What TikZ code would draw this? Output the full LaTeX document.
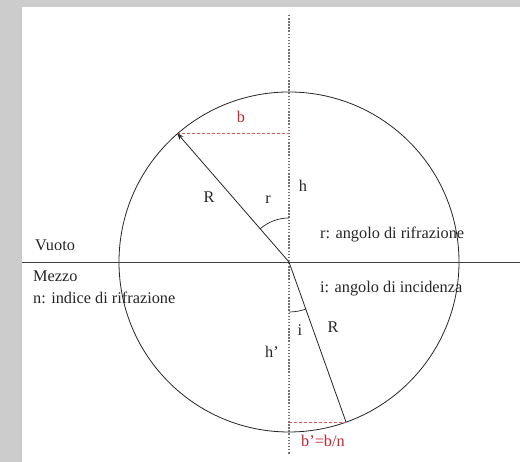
\documentclass[tikz,border=0pt]{standalone}
\usepackage{fontspec}
\setmainfont{Liberation Serif}
\usepackage{tikz}
\usetikzlibrary{arrows.meta}
\definecolor{cornice}{RGB}{204,204,204}
\definecolor{rosso}{RGB}{196,40,52}
\definecolor{tratteggio}{RGB}{222,90,90}

\begin{document}
\begin{tikzpicture}[x=1pt,y=1pt,
		testo/.style={font=\fontsize{16.3}{18}\selectfont, inner sep=0pt, text=black!85},
		testorosso/.style={testo, text=rosso},
		asse/.style={black!55, dash pattern=on 1.5pt off 1.6pt, line width=1.2pt},
		proiezione/.style={tratteggio, dash pattern=on 3pt off 2pt, line width=0.9pt},
		raggio/.style={black!85, line width=0.8pt},
		angolo/.style={black!85, line width=0.7pt}]
		\fill[cornice] (0,0) rectangle (520,462);
		\fill[white] (22,0) rectangle (520,455);
		\useasboundingbox (0,0) rectangle (520,462);
		
		\coordinate (O) at (289,200);
		\coordinate (sx) at (22,200);
		\coordinate (dx) at (520,200);
		\coordinate (su) at (289,447);
		\coordinate (giu) at (289,7);
		\coordinate (P) at (177,329);
		\coordinate (Pv) at (289,329);
		\coordinate (Q) at (346,40);
		\coordinate (Qv) at (289,40);
		
		\draw[raggio] (O) circle[radius=170];
		\draw[black!75, line width=0.8pt] (sx)--(dx);
		\draw[asse] (su)--(giu);
		\draw[proiezione] (P)--(Pv);
		\draw[proiezione] (Qv)--(Q);
		\draw[raggio, -{Stealth[length=7pt,width=5pt]}] (O)--(P);
		\draw[raggio] (O)--(Q);
		\draw[angolo] ([shift={(90:44)}]O) arc[start angle=90, end angle=131, radius=44];
		\draw[angolo] ([shift={(-90:50)}]O) arc[start angle=-90, end angle=-70.4, radius=50];
		
		\node[testorosso] (b) at (241,345) {b};
		\node[testorosso] (bp) at (323,21) {b'=b/n};
		\node[testo] (Rsu) at (209,265) {R};
		\node[testo] (r) at (268,262) {r};
		\node[testo] (h) at (303,276) {h};
		\node[testo] (Rgiu) at (333,135) {R};
		\node[testo] (i) at (300,132) {i};
		\node[testo] (hp) at (272,110) {h'};
		\node[testo, anchor=west] (vuoto) at (35,217) {Vuoto};
		\node[testo, anchor=west] (mezzo) at (33,186) {Mezzo};
		\node[testo, anchor=west] (n) at (33,164) {n: indice di rifrazione};
		\node[testo, anchor=west] (rifr) at (320,227) {r: angolo di rifrazione};
		\node[testo, anchor=west] (inc) at (320,173) {i: angolo di incidenza};
\end{tikzpicture}
\end{document}
